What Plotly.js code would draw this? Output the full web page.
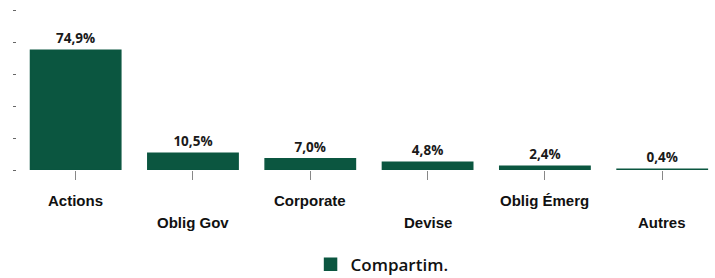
<!DOCTYPE html>
<html>
<head>
<meta charset="utf-8">
<script src="https://cdn.plot.ly/plotly-3.0.1.min.js"></script>
<style>html,body{margin:0;padding:0;background:#fff;}#chart{width:715px;height:278px;}</style>
</head>
<body>
<div id="chart"></div>
<script>
const categories = ["Actions", "Oblig Gov", "Corporate", "Devise", "Oblig Émerg", "Autres"];
const values = [74.9, 10.5, 7.0, 4.8, 2.4, 0.4];
const seriesName = "Compartim.";
const yTicks = [0, 20, 40, 60, 80, 100];

const barColor = "#0b5640";

const trace = {
  type: "bar",
  x: categories,
  y: values,
  name: seriesName,
  marker: {color: barColor, line: {color: barColor, width: 1.5}},
  texttemplate: "%{y:.1f}%",
  textposition: "outside",
  cliponaxis: false,
  textfont: {family: "Open Sans", size: 13.5, color: "#1a1a1a", weight: 700},
  hoverinfo: "none"
};

const annotations = categories.map((c, i) => ({
  x: c, xref: "x", y: 0, yref: "paper",
  yanchor: "middle", xanchor: "center",
  yshift: i % 2 === 0 ? -30 : -52,
  text: c, showarrow: false,
  font: {family: "Liberation Sans", size: 15, color: "#111", weight: 700}
}));

const layout = {
  width: 715, height: 278,
  margin: {l: 17, r: 0, t: 10, b: 108, autoexpand: false},
  separators: ", ",
  paper_bgcolor: "#fff", plot_bgcolor: "#fff",
  bargap: 0.23,
  showlegend: true,
  legend: {orientation: "h", x: 0.523, xanchor: "center", y: -0.48, yanchor: "top",
           itemwidth: 30,
           font: {family: "Open Sans", size: 17, color: "#111", weight: 600}},
  xaxis: {
    type: "category", range: [-0.5, 5.45],
    showticklabels: false, showline: false, showgrid: false, zeroline: false,
    ticks: "outside", ticklen: 9, tickcolor: "#888", tickwidth: 1
  },
  yaxis: {
    range: [0, 100], tickvals: yTicks, showticklabels: false,
    showgrid: false, zeroline: false, showline: false,
    ticks: "outside", ticklen: 3, tickcolor: "#666", tickwidth: 1
  },
  annotations: annotations
};

Plotly.newPlot("chart", [trace], layout, {displayModeBar: false, staticPlot: true});
</script>
</body>
</html>
